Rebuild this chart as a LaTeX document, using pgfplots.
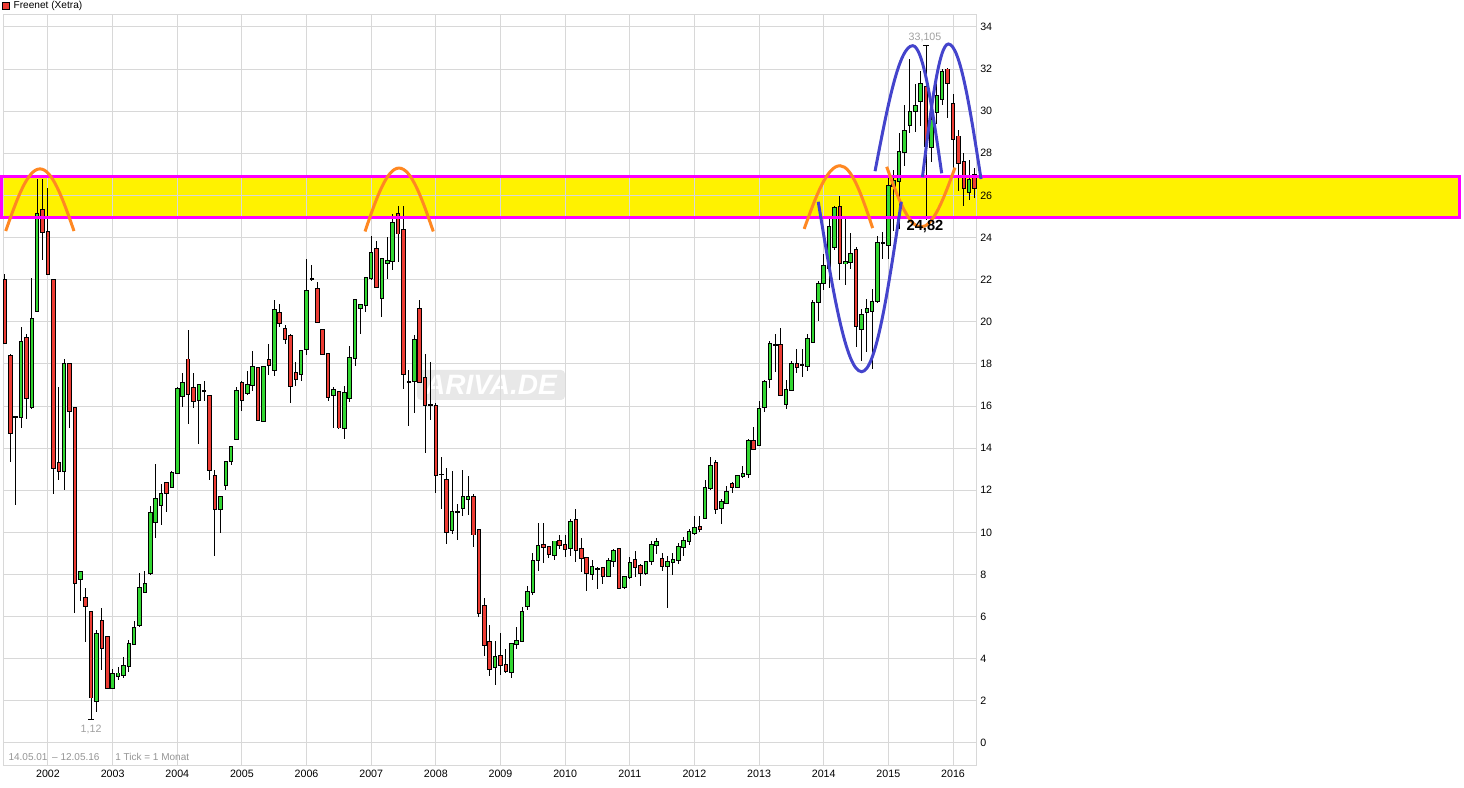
\documentclass[border=0pt]{standalone}
\usepackage{fontspec}
\setmainfont{Liberation Sans}
\usepackage{pgfplots}
\pgfplotsset{compat=1.18}
\usepackage{pgfplotstable}
\definecolor{cgreen}{RGB}{50,215,50}
\definecolor{cred}{RGB}{236,60,52}
\definecolor{gridc}{RGB}{216,216,216}
\definecolor{bandc}{RGB}{255,242,0}
\definecolor{mag}{RGB}{255,0,255}
\definecolor{orng}{RGB}{255,136,34}
\definecolor{blu}{RGB}{68,68,204}
\definecolor{lbl}{RGB}{160,160,160}

\pgfplotstableread{
m O H L C
-8 21.97 22.28 18.95 18.98
-7 18.37 18.47 13.34 14.70
-6 15.49 15.55 11.28 15.49
-5 15.46 19.74 14.95 19.06
-4 19.25 19.40 15.37 16.37
-3 15.97 22.06 15.88 20.15
-2 20.53 26.80 20.50 25.14
-1 25.32 26.80 22.94 24.26
0 24.27 26.37 22.20 22.28
1 21.97 22.00 11.82 13.06
2 13.29 16.90 12.50 12.92
3 12.92 18.22 12.02 18.00
4 18.00 18.05 14.95 15.76
5 15.90 15.95 6.15 7.59
6 7.79 8.15 6.74 8.13
7 6.90 7.34 4.80 6.51
8 6.22 6.25 1.12 2.16
9 2.01 5.36 1.47 5.19
10 5.81 6.41 3.45 4.51
11 5.02 5.05 2.60 2.63
12 2.63 3.50 2.60 3.28
13 3.20 3.60 3.00 3.30
14 3.24 4.09 3.10 3.65
15 3.66 4.88 3.35 4.71
16 4.71 5.78 4.65 5.48
17 5.61 8.05 5.50 7.34
18 7.17 8.15 7.10 7.56
19 8.06 11.23 8.00 10.92
20 10.47 13.26 9.74 11.60
21 11.28 12.28 10.33 11.82
22 12.33 12.40 10.97 11.85
23 12.17 12.92 12.10 12.81
24 12.81 16.90 12.75 16.81
25 16.48 17.59 15.94 17.10
26 18.21 19.59 15.14 16.57
27 16.86 17.57 15.89 16.24
28 16.29 17.05 14.19 17.00
29 16.71 17.20 16.25 16.71
30 16.48 16.50 12.51 12.98
31 12.67 12.95 8.86 11.10
32 11.10 11.70 9.98 11.67
33 12.24 13.35 12.00 13.33
34 13.38 14.10 13.19 14.05
35 14.43 16.89 14.40 16.71
36 17.10 17.21 15.78 16.29
37 16.60 17.68 16.54 17.00
38 17.00 18.59 16.70 17.86
39 17.81 17.85 15.30 15.33
40 15.29 17.90 15.25 17.86
41 18.19 18.95 17.49 17.95
42 17.71 21.02 17.44 20.57
43 20.43 20.86 19.75 19.95
44 19.67 19.83 18.95 19.16
45 19.33 19.40 16.13 16.95
46 17.57 18.11 16.94 17.29
47 17.52 18.65 17.17 18.62
48 18.71 22.97 18.43 21.48
49 22.02 22.68 21.95 22.02
50 21.57 21.90 19.95 20.00
51 19.62 19.65 18.45 18.48
52 18.48 18.50 16.22 16.43
53 16.52 16.89 14.98 16.76
54 16.67 16.70 14.90 14.98
55 14.94 16.97 14.43 16.62
56 16.38 18.84 16.17 18.29
57 18.29 21.05 17.89 21.02
58 20.67 20.85 19.43 20.81
59 20.81 22.15 20.46 22.10
60 22.10 24.08 22.00 23.29
61 23.48 23.83 21.65 21.67
62 21.14 23.05 20.22 23.00
63 22.80 24.03 22.05 22.90
64 22.90 25.14 22.44 24.71
65 25.11 25.50 22.84 24.19
66 24.38 25.50 16.81 17.52
67 17.13 17.71 15.03 17.13
68 17.19 19.35 15.67 19.14
69 20.62 21.02 17.10 17.16
70 17.33 18.48 13.76 16.06
71 16.03 18.10 15.32 16.03
72 16.00 16.14 11.86 12.71
73 12.75 13.59 11.10 12.75
74 12.48 13.08 9.43 10.00
75 10.10 12.92 9.94 10.95
76 10.97 11.33 9.62 10.97
77 11.16 12.98 10.78 11.68
78 11.60 12.68 10.81 11.68
79 11.68 11.81 9.33 9.90
80 10.10 10.12 6.00 6.19
81 6.52 6.89 4.11 4.67
82 4.81 5.62 3.16 3.52
83 3.59 4.83 2.76 4.10
84 4.15 5.21 3.24 3.68
85 3.71 4.47 3.32 3.41
86 3.38 4.75 3.10 4.71
87 4.71 5.53 4.45 4.83
88 4.85 6.45 4.80 6.22
89 6.51 7.46 6.32 7.17
90 7.17 9.02 7.01 8.64
91 8.69 10.43 8.15 9.35
92 9.40 10.43 8.55 9.30
93 9.30 9.32 8.78 8.97
94 8.93 9.60 8.70 9.57
95 9.59 9.90 9.20 9.40
96 9.40 9.89 8.85 9.21
97 9.24 10.63 8.86 10.49
98 10.58 11.12 8.58 9.16
99 9.21 9.73 8.10 8.78
100 8.78 8.84 7.20 8.07
101 8.03 8.69 7.74 8.37
102 8.26 8.34 7.31 8.26
103 8.31 8.37 7.55 7.95
104 7.91 8.78 7.87 8.64
105 8.64 9.21 8.34 9.12
106 9.21 9.25 7.30 7.36
107 7.39 7.90 7.30 7.87
108 7.87 8.82 7.80 8.56
109 8.69 9.10 7.90 8.37
110 8.40 8.50 7.44 8.07
111 8.07 8.66 8.00 8.59
112 8.64 9.57 8.45 9.42
113 9.42 9.73 8.97 9.54
114 8.74 9.00 8.15 8.39
115 8.40 8.90 6.40 8.60
116 8.60 9.00 8.00 8.70
117 8.70 9.50 8.50 9.30
118 9.30 9.80 8.90 9.60
119 9.60 10.15 9.40 10.00
120 9.95 10.78 9.90 10.22
121 10.27 10.78 10.00 10.14
122 10.70 12.49 10.62 12.10
123 12.10 13.59 12.00 13.16
124 13.29 13.43 10.89 11.10
125 11.17 11.57 10.38 11.44
126 11.41 12.21 11.35 11.92
127 12.30 12.40 11.89 12.17
128 12.16 12.71 12.10 12.67
129 12.67 13.16 12.56 12.78
130 12.79 14.43 12.56 14.35
131 14.35 15.02 13.90 13.98
132 14.14 16.25 14.10 15.86
133 15.94 17.24 15.70 17.16
134 17.29 19.11 16.86 18.95
135 18.89 19.43 17.60 18.89
136 18.90 19.70 16.50 16.52
137 16.10 17.24 15.84 16.76
138 16.76 18.16 16.70 18.00
139 18.00 18.71 17.56 17.87
140 17.95 18.71 17.37 17.95
141 17.90 19.40 17.68 19.19
142 19.05 21.02 19.00 20.90
143 20.95 21.92 20.06 21.81
144 21.86 23.24 21.49 22.67
145 22.54 25.04 21.60 24.52
146 23.54 25.51 23.40 25.40
147 25.47 25.99 22.00 22.79
148 22.79 24.88 21.75 22.82
149 22.82 24.20 22.50 23.22
150 23.42 23.54 18.79 19.82
151 19.66 20.60 18.16 20.32
152 20.45 21.10 18.55 20.61
153 20.53 21.55 17.76 20.92
154 21.00 24.09 20.90 23.74
155 23.74 24.25 22.98 23.74
156 23.66 26.94 22.98 26.46
157 26.46 27.20 24.30 26.70
158 26.70 28.96 24.40 28.06
159 28.06 30.30 27.40 29.07
160 29.35 32.50 28.96 29.98
161 30.00 31.30 29.00 30.23
162 30.50 31.90 29.30 31.30
163 31.16 33.105 24.82 28.36
164 28.30 30.30 27.60 29.60
165 29.95 31.30 29.40 30.72
166 30.60 32.00 30.30 31.86
167 31.98 32.05 29.70 31.32
168 30.35 30.80 27.30 28.70
169 28.80 29.10 26.20 27.55
170 27.60 28.00 25.50 26.35
171 26.18 27.70 25.80 26.73
172 26.98 27.30 25.90 26.33
}\data

\begin{document}
\begin{tikzpicture}
\begin{axis}[
  at={(2.25pt,16.5pt)}, anchor=south west,
  scale only axis, width=729.75pt, height=563.25pt,
  xmin=-8.353, xmax=172.27, ymin=-1.092, ymax=34.568,
  clip=false,
  set layers=standard,
  axis line style={gridc, line width=0.75pt},
  grid=major, grid style={gridc, line width=0.75pt},
  major tick length=0pt,
  tick style={draw=none},
  xtick={0,12,24,36,48,60,72,84,96,108,120,132,144,156,168},
  xticklabels={2002,2003,2004,2005,2006,2007,2008,2009,2010,2011,2012,2013,2014,2015,2016},
  ytick={0,2,4,6,8,10,12,14,16,18,20,22,24,26,28,30,32,34},
  yticklabels={0,2,4,6,8,10,12,14,16,18,20,22,24,26,28,30,32,34},
  yticklabel pos=right,
  tick label style={font=\fontsize{8}{9}\selectfont, black},
  yticklabel style={anchor=west, inner sep=0pt, xshift=3pt},
  xticklabel style={anchor=north, inner sep=0pt, yshift=-2.6pt},
]
\begin{pgfonlayer}{axis background}
\fill[bandc] (axis cs:-8.63,24.97) rectangle (axis cs:262.1,26.91);
\node[fill=black!9, rounded corners=3pt, minimum width=111pt, minimum height=22.5pt, inner sep=0pt,
      text=white, font=\fontsize{21}{22}\selectfont\bfseries\itshape] at (axis cs:82.24,17.0) {ARIVA.DE};
\end{pgfonlayer}

% wicks
\addplot[draw=none, mark=none,
  error bars/.cd, y dir=both, y explicit, error mark=none,
  error bar style={draw=black, line width=0.75pt}]
  table[x=m, y expr={(\thisrow{H}+\thisrow{L})/2}, y error expr={(\thisrow{H}-\thisrow{L})/2}] {\data};
% body outlines
\addplot[draw=none, mark=none,
  error bars/.cd, y dir=both, y explicit, error mark=none,
  error bar style={draw=black, line width=3.4pt, line cap=butt}]
  table[x=m, y expr={(\thisrow{O}+\thisrow{C})/2}, y error expr={abs(\thisrow{C}-\thisrow{O})/2+0.045}] {\data};
% green bodies
\addplot[draw=none, mark=none,
  restrict expr to domain={\thisrow{C}-\thisrow{O}}{0.0001:100},
  error bars/.cd, y dir=both, y explicit, error mark=none,
  error bar style={draw=cgreen, line width=1.9pt, line cap=butt}]
  table[x=m, y expr={(\thisrow{O}+\thisrow{C})/2}, y error expr={abs(\thisrow{C}-\thisrow{O})/2}] {\data};
% red bodies
\addplot[draw=none, mark=none,
  restrict expr to domain={\thisrow{C}-\thisrow{O}}{-100:-0.0001},
  error bars/.cd, y dir=both, y explicit, error mark=none,
  error bar style={draw=cred, line width=1.9pt, line cap=butt}]
  table[x=m, y expr={(\thisrow{O}+\thisrow{C})/2}, y error expr={abs(\thisrow{C}-\thisrow{O})/2}] {\data};

% high / low markers
\draw[black, line width=0.75pt] (axis cs:162.45,33.105) -- (axis cs:163.55,33.105);
\draw[black, line width=0.75pt] (axis cs:7.45,1.12) -- (axis cs:8.55,1.12);

% band border
\draw[mag, line width=2.25pt] (axis cs:-8.63,24.97) rectangle (axis cs:262.1,26.91);

% orange arcs
\draw[orng, line width=2.25pt] (axis cs:-7.85,24.31) sin (axis cs:-1.49,27.26) cos (axis cs:4.83,24.31);
\draw[orng, line width=2.25pt] (axis cs:58.85,24.29) sin (axis cs:65.16,27.30) cos (axis cs:71.52,24.29);
\draw[orng, line width=2.25pt] (axis cs:140.37,24.41) sin (axis cs:147.02,27.41) cos (axis cs:153.09,24.45);
\draw[orng, line width=2.25pt] (axis cs:155.69,27.36) sin (axis cs:162.06,24.50) cos (axis cs:168.37,27.32);

% blue waves
\draw[blu, line width=2.25pt] (axis cs:142.99,25.7) sin (axis cs:151.05,17.63) cos (axis cs:158.4,25.7);
\draw[blu, line width=2.25pt] (axis cs:153.53,27.15) sin (axis cs:160.52,33.11) cos (axis cs:165.90,27.05);
\draw[blu, line width=2.25pt] (axis cs:162.33,26.87) sin (axis cs:167.13,33.19) cos (axis cs:173.2,26.78);

% labels
\node[text=lbl, font=\fontsize{8}{9}\selectfont, inner sep=0pt] at (axis cs:162.8,33.51) {33,105};
\node[text=lbl, font=\fontsize{8}{9}\selectfont, inner sep=0pt] at (axis cs:8.0,0.64) {1,12};
\node[black, font=\fontsize{11}{13}\selectfont\bfseries, inner sep=0pt] at (axis cs:162.8,24.53) {24,82};

% footer
\node[text=black!42, font=\fontsize{7.5}{9}\selectfont, anchor=west, inner sep=0pt] at (axis cs:-7.37,-0.65) {14.05.01};
\node[text=black!42, font=\fontsize{7.5}{9}\selectfont, anchor=west, inner sep=0pt] at (axis cs:0.74,-0.65) {-- 12.05.16};
\node[text=black!42, font=\fontsize{7.5}{9}\selectfont, anchor=west, inner sep=0pt] at (axis cs:12.44,-0.65) {1 Tick = 1 Monat};
\end{axis}

% legend
\draw[black, line width=0.6pt, fill=cred] (1.6pt,589.4pt) rectangle (7.1pt,583.9pt);
\node[anchor=west, inner sep=0pt, font=\fontsize{7.6}{9}\selectfont] at (10pt,586.6pt) {Freenet (Xetra)};
\pgfresetboundingbox
\path[use as bounding box] (0pt,0pt) rectangle (1098pt,591pt);
\end{tikzpicture}
\end{document}
